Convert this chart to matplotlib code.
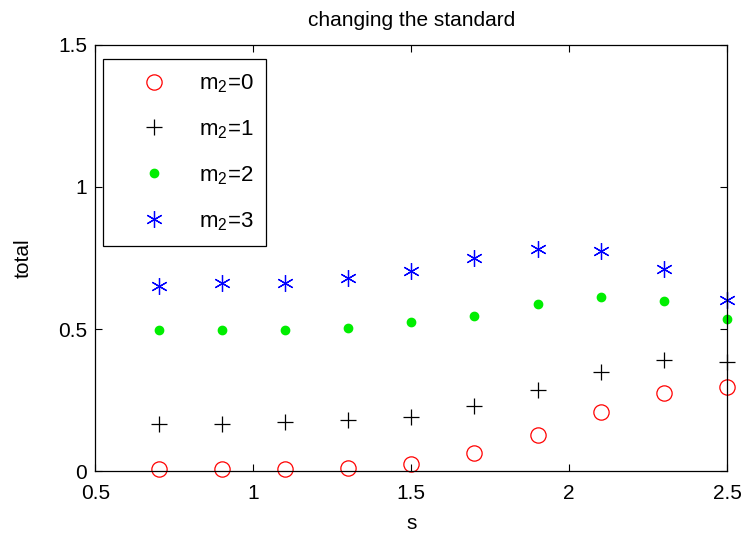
import matplotlib
matplotlib.use("Agg")
import matplotlib.pyplot as plt
from matplotlib.lines import Line2D

plt.rcParams['font.family'] = ['Liberation Sans', 'DejaVu Sans']
plt.rcParams['mathtext.fontset'] = 'custom'
plt.rcParams['mathtext.rm'] = 'Liberation Sans'

# Data
s = [0.7, 0.9, 1.1, 1.3, 1.5, 1.7, 1.9, 2.1, 2.3, 2.5]
m2_0 = [0.006, 0.006, 0.006, 0.012, 0.025, 0.062, 0.127, 0.209, 0.275, 0.295]
m2_1 = [0.167, 0.166, 0.173, 0.178, 0.191, 0.230, 0.286, 0.350, 0.391, 0.384]
m2_2 = [0.496, 0.496, 0.496, 0.502, 0.523, 0.547, 0.587, 0.611, 0.600, 0.535]
m2_3 = [0.652, 0.661, 0.661, 0.678, 0.705, 0.749, 0.782, 0.775, 0.710, 0.602]
labels = ['m$_\\mathrm{2}$=0', 'm$_\\mathrm{2}$=1', 'm$_\\mathrm{2}$=2', 'm$_\\mathrm{2}$=3']

FS = 15

fig = plt.figure(figsize=(7.46, 5.38), dpi=100)
ax = fig.add_axes([0.128, 0.1245, 0.8465, 0.7919])

star = (6, 2, 0)  # MATLAB-like asterisk
ax.plot(s, m2_0, 'o', mfc='none', mec='red', ms=11, mew=0.9, clip_on=False)
ax.plot(s, m2_1, '+', color='black', ms=12, mew=0.9, clip_on=False)
ax.plot(s, m2_2, 'o', color='#00ee00', ms=6, clip_on=False)
ax.plot(s, m2_3, marker=star, ls='none', color='blue', ms=12, mew=0.9, clip_on=False)

ax.set_xlim(0.5, 2.5)
ax.set_ylim(0, 1.5)
ax.set_xticks([0.5, 1, 1.5, 2, 2.5])
ax.set_xticklabels(['0.5', '1', '1.5', '2', '2.5'])
ax.set_yticks([0, 0.5, 1, 1.5])
ax.set_yticklabels(['0', '0.5', '1', '1.5'])
ax.tick_params(direction='in', top=True, right=True, labelsize=FS, length=5)
ax.tick_params(axis='x', pad=9)
ax.tick_params(axis='y', pad=6)
for sp in ax.spines.values():
    sp.set_linewidth(0.9)

ax.set_title('changing the standard', fontsize=FS, pad=14)
ax.set_xlabel('s', fontsize=FS, labelpad=8)
ax.set_ylabel('total', fontsize=FS, labelpad=18)

handles = [
    Line2D([], [], ls='none', marker='o', mfc='none', mec='red', ms=11, mew=0.9),
    Line2D([], [], ls='none', marker='+', color='black', ms=12, mew=0.9),
    Line2D([], [], ls='none', marker='o', color='#00ee00', ms=6),
    Line2D([], [], ls='none', marker=star, color='blue', ms=12, mew=0.9),
]
leg = ax.legend(handles, labels, loc='upper left', fontsize=16, fancybox=False,
                edgecolor='black', framealpha=1, borderpad=0.6, labelspacing=1.05,
                handletextpad=0.3, handlelength=3.4,
                bbox_to_anchor=(103 / 746, 1 - 59 / 538), bbox_transform=fig.transFigure,
                borderaxespad=0)
leg.get_frame().set_linewidth(0.9)

fig.savefig('out.png', dpi=100)
